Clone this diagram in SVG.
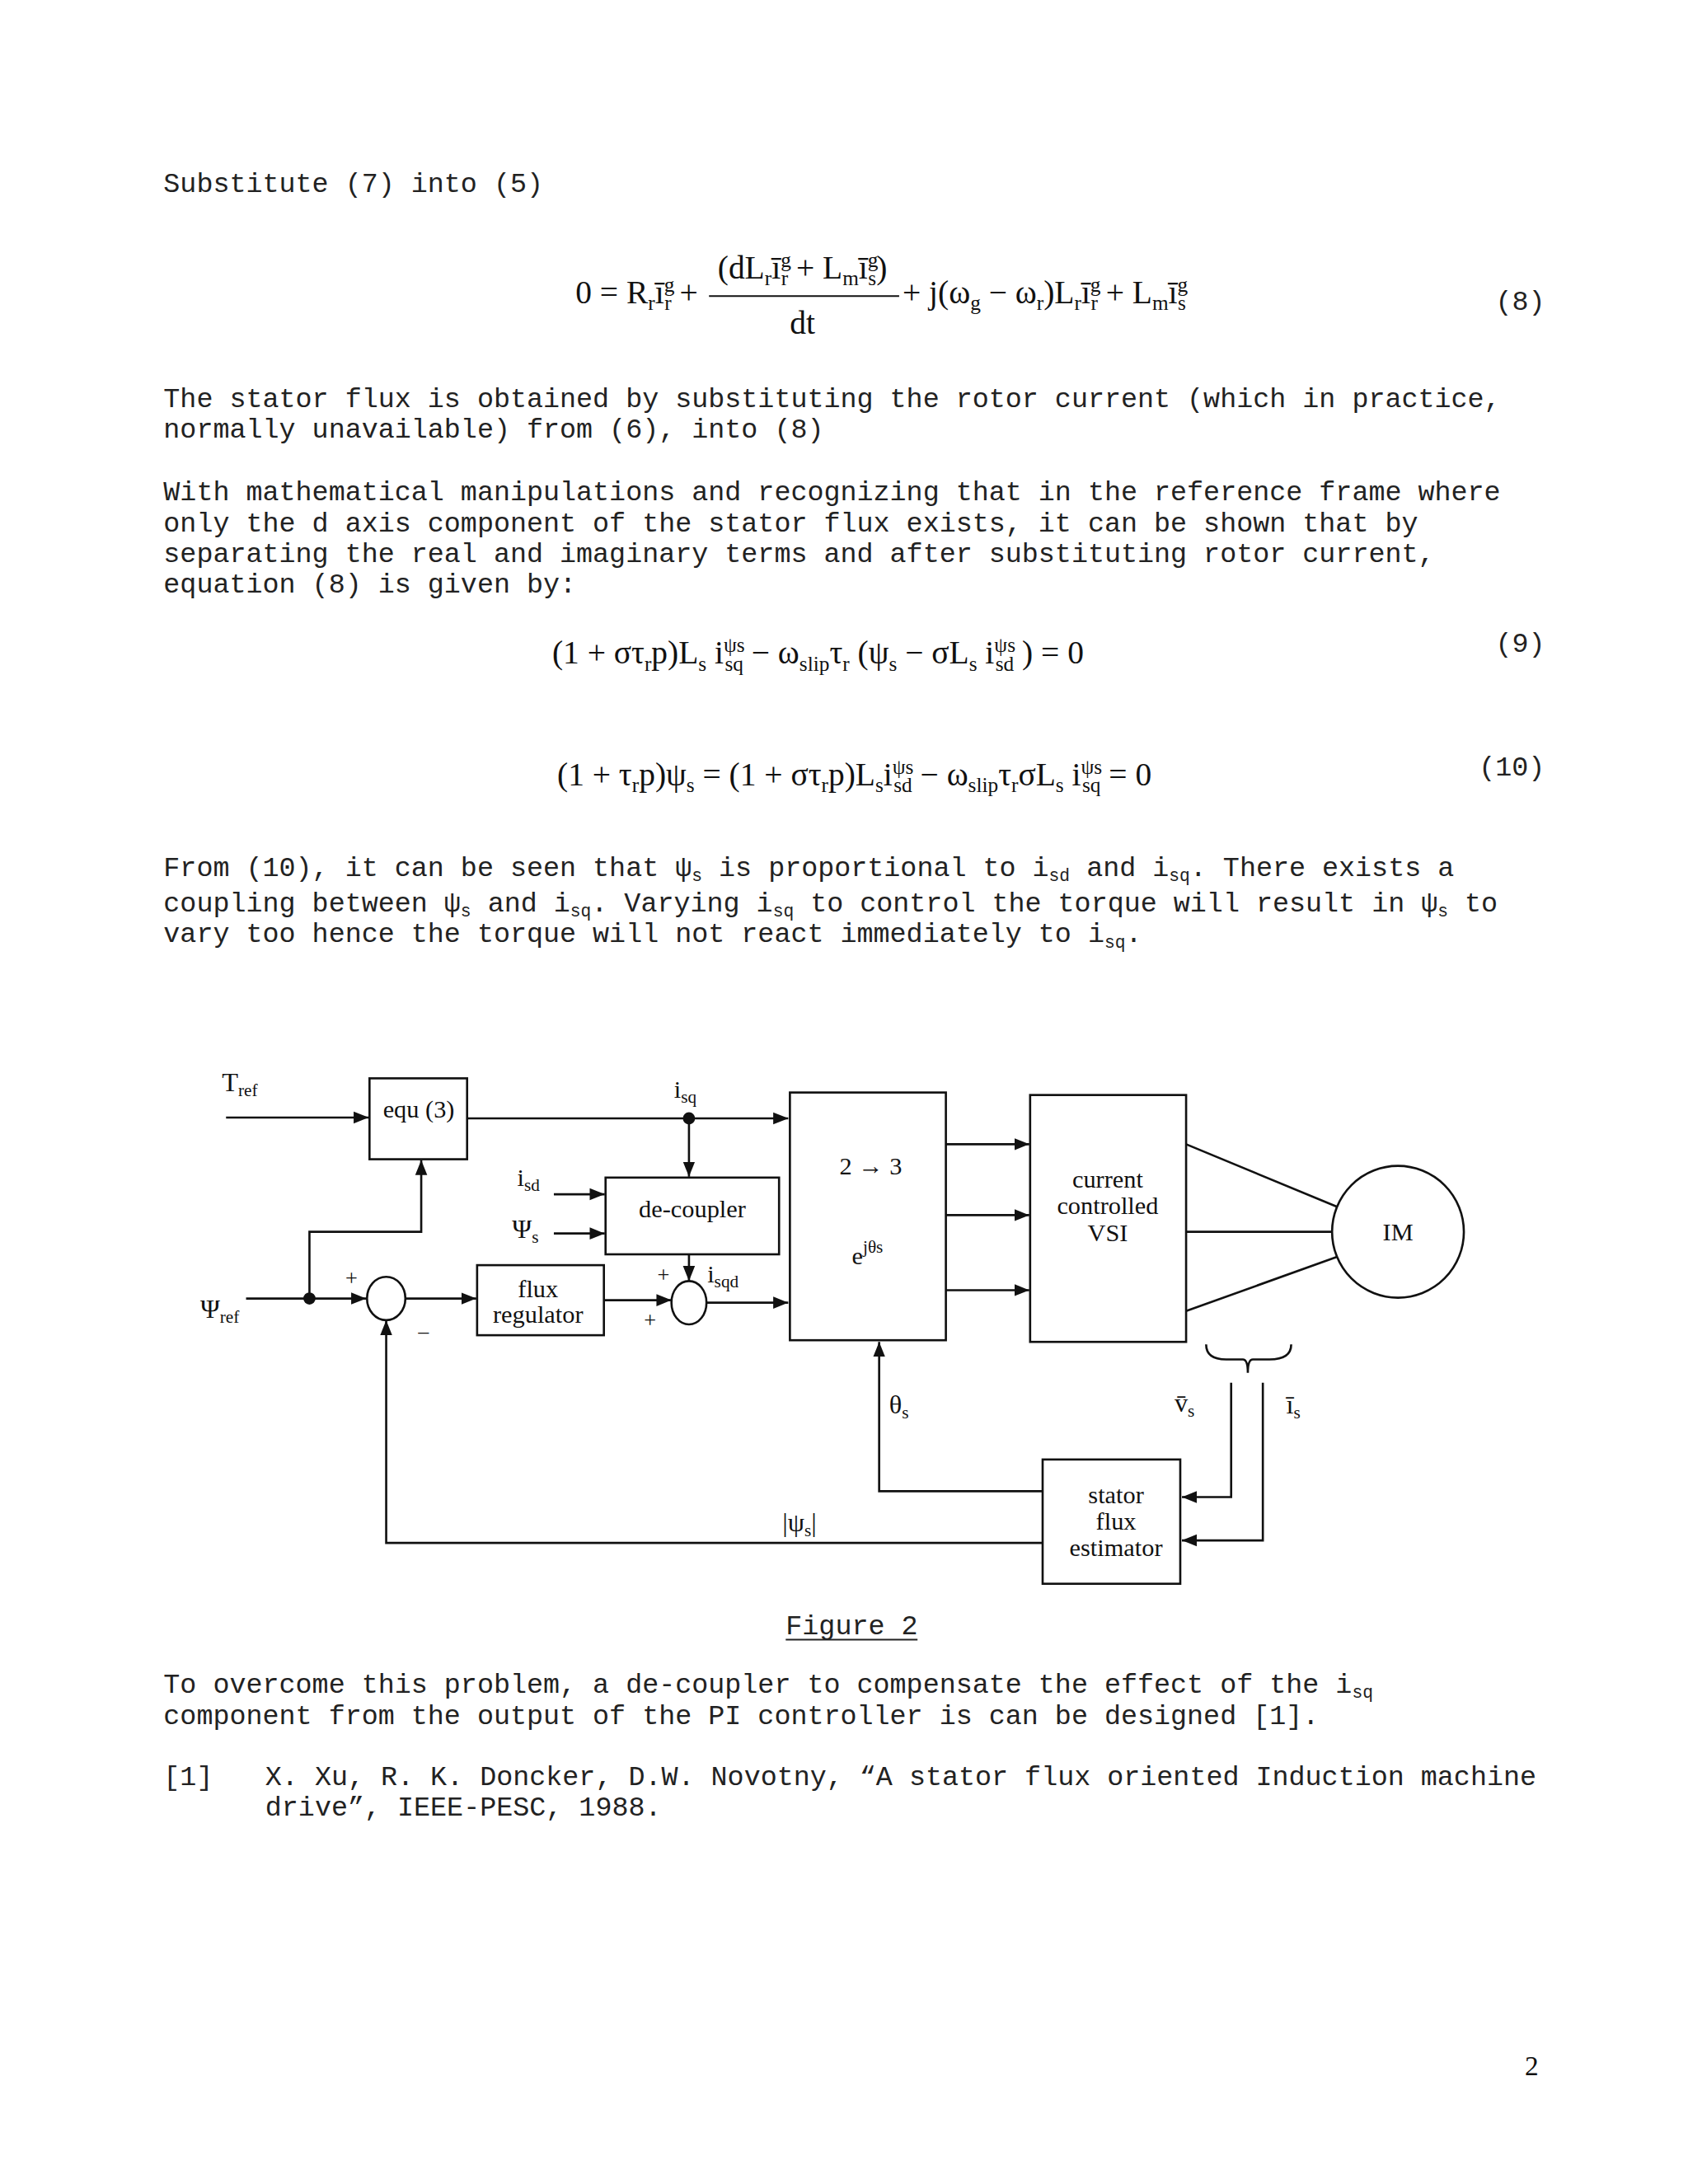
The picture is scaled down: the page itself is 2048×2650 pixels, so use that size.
<svg xmlns="http://www.w3.org/2000/svg" width="2048" height="2650" viewBox="0 0 2048 2650">
<style>
.t{font-family:"Liberation Mono",monospace;font-size:33px;fill:#222}
.e{font-family:"Liberation Serif",serif;font-size:39px;fill:#111}
.e .s{font-size:25px}
.d{font-family:"Liberation Serif",serif;font-size:30px;fill:#111}
.m{text-anchor:middle}
.s{font-size:21px}
.ln{stroke:#111;stroke-width:2.6;fill:none}
</style>
<defs><marker id="b" viewBox="0 0 10 10" refX="10" refY="5" markerWidth="18" markerHeight="18" markerUnits="userSpaceOnUse" orient="auto"><path d="M0,1L10,5L0,9z" fill="#111"/></marker></defs>
<rect width="2048" height="2650" fill="#fff"/>
<g transform="translate(0,8) scale(1.012)">
<text class="t" x="196" y="222">Substitute (7) into (5)</text>
<text class="e" x="690" y="356">0 = R<tspan class="s" dy="8">r</tspan><tspan dy="-8">ī</tspan><tspan class="s" dy="-14">g</tspan><tspan class="s" dx="-12" dy="22">r</tspan><tspan dy="-8"> +</tspan></text>
<text class="e m" x="962" y="326">(dL<tspan class="s" dy="8">r</tspan><tspan dy="-8">ī</tspan><tspan class="s" dy="-14">g</tspan><tspan class="s" dx="-12" dy="22">r</tspan><tspan dy="-8"> + L</tspan><tspan class="s" dy="8">m</tspan><tspan dy="-8">ī</tspan><tspan class="s" dy="-14">g</tspan><tspan class="s" dx="-12" dy="22">s</tspan><tspan dy="-8">)</tspan></text>
<line x1="850" y1="347" x2="1078" y2="347" stroke="#111" stroke-width="2"/>
<text class="e m" x="962" y="392">dt</text>
<text class="e" x="1082" y="356">+ j(ω<tspan class="s" dy="8">g</tspan><tspan dy="-8"> − ω</tspan><tspan class="s" dy="8">r</tspan><tspan dy="-8">)L</tspan><tspan class="s" dy="8">r</tspan><tspan dy="-8">ī</tspan><tspan class="s" dy="-14">g</tspan><tspan class="s" dx="-12" dy="22">r</tspan><tspan dy="-8"> + L</tspan><tspan class="s" dy="8">m</tspan><tspan dy="-8">ī</tspan><tspan class="s" dy="-14">g</tspan><tspan class="s" dx="-12" dy="22">s</tspan></text>
<text class="t" x="1793" y="364">(8)</text>
<text class="t" x="196" y="480">The stator flux is obtained by substituting the rotor current (which in practice,</text>
<text class="t" x="196" y="517">normally unavailable) from (6), into (8)</text>
<text class="t" x="196" y="592">With mathematical manipulations and recognizing that in the reference frame where</text>
<text class="t" x="196" y="629">only the d axis component of the stator flux exists, it can be shown that by</text>
<text class="t" x="196" y="666">separating the real and imaginary terms and after substituting rotor current,</text>
<text class="t" x="196" y="703">equation (8) is given by:</text>
<text class="e" x="662" y="788">(1 + στ<tspan class="s" dy="8">r</tspan><tspan dy="-8">p)L</tspan><tspan class="s" dy="8">s</tspan><tspan dy="-8"> i</tspan><tspan class="s" dy="-14">ψs</tspan><tspan class="s" dx="-24" dy="22">sq</tspan><tspan dy="-8"> − ω</tspan><tspan class="s" dy="8">slip</tspan><tspan dy="-8">τ</tspan><tspan class="s" dy="8">r</tspan><tspan dy="-8"> (ψ</tspan><tspan class="s" dy="8">s</tspan><tspan dy="-8"> − σL</tspan><tspan class="s" dy="8">s</tspan><tspan dy="-8"> i</tspan><tspan class="s" dy="-14">ψs</tspan><tspan class="s" dx="-24" dy="22">sd</tspan><tspan dy="-8"> ) = 0</tspan></text>
<text class="t" x="1793" y="774">(9)</text>
<text class="e" x="668" y="934">(1 + τ<tspan class="s" dy="8">r</tspan><tspan dy="-8">p)ψ</tspan><tspan class="s" dy="8">s</tspan><tspan dy="-8"> = (1 + στ</tspan><tspan class="s" dy="8">r</tspan><tspan dy="-8">p)L</tspan><tspan class="s" dy="8">s</tspan><tspan dy="-8">i</tspan><tspan class="s" dy="-14">ψs</tspan><tspan class="s" dx="-24" dy="22">sd</tspan><tspan dy="-8"> − ω</tspan><tspan class="s" dy="8">slip</tspan><tspan dy="-8">τ</tspan><tspan class="s" dy="8">r</tspan><tspan dy="-8">σL</tspan><tspan class="s" dy="8">s</tspan><tspan dy="-8"> i</tspan><tspan class="s" dy="-14">ψs</tspan><tspan class="s" dx="-24" dy="22">sq</tspan><tspan dy="-8"> = 0</tspan></text>
<text class="t" x="1773" y="922">(10)</text>
<text class="t" x="196" y="1042">From (10), it can be seen that ψ<tspan class="s" dy="6">s</tspan><tspan dy="-6"> is proportional to i</tspan><tspan class="s" dy="6">sd</tspan><tspan dy="-6"> and i</tspan><tspan class="s" dy="6">sq</tspan><tspan dy="-6">. There exists a</tspan></text>
<text class="t" x="196" y="1085">coupling between ψ<tspan class="s" dy="6">s</tspan><tspan dy="-6"> and i</tspan><tspan class="s" dy="6">sq</tspan><tspan dy="-6">. Varying i</tspan><tspan class="s" dy="6">sq</tspan><tspan dy="-6"> to control the torque will result in ψ</tspan><tspan class="s" dy="6">s</tspan><tspan dy="-6"> to</tspan></text>
<text class="t" x="196" y="1122">vary too hence the torque will not react immediately to i<tspan class="s" dy="6">sq</tspan><tspan dy="-6">.</tspan></text>
<g transform="translate(0,-10)">
<g id="connectors" class="ln">
<path d="M271,1342H442" marker-end="url(#b)"/>
<path d="M560,1343H945" marker-end="url(#b)"/>
<path d="M826,1343V1413" marker-end="url(#b)"/>
<path d="M664,1434H725" marker-end="url(#b)"/>
<path d="M664,1481H725" marker-end="url(#b)"/>
<path d="M826,1506V1538" marker-end="url(#b)"/>
<path d="M847,1564H945" marker-end="url(#b)"/>
<path d="M724,1561H805" marker-end="url(#b)"/>
<path d="M486,1559H571" marker-end="url(#b)"/>
<path d="M295,1559H439" marker-end="url(#b)"/>
<path d="M371,1559V1479H505V1393" marker-end="url(#b)"/>
<path d="M1134,1374H1234" marker-end="url(#b)"/>
<path d="M1134,1459H1234" marker-end="url(#b)"/>
<path d="M1134,1549H1234" marker-end="url(#b)"/>
<path d="M1422,1374L1603,1449M1422,1479H1597M1422,1574L1603,1509"/>
<path d="M1250,1852H463V1585" marker-end="url(#b)"/>
<path d="M1250,1790H1054V1611" marker-end="url(#b)"/>
<path d="M1476,1660V1797H1417" marker-end="url(#b)"/>
<path d="M1514,1660V1849H1417" marker-end="url(#b)"/>
<path d="M1446,1614Q1446,1632 1470,1632H1490Q1496,1632 1496,1648Q1496,1632 1502,1632H1522Q1548,1632 1548,1614"/>
<circle cx="371" cy="1559" r="6" fill="#111"/>
<circle cx="826" cy="1343" r="6" fill="#111"/>
</g>
<g id="equ3"><rect x="443" y="1295" width="117" height="97" class="ln"/><text class="d m" x="502" y="1342">equ (3)</text></g>
<g id="conv23"><rect x="947" y="1312" width="187" height="297" class="ln"/><text class="d m" x="1044" y="1410" font-size="40">2 → 3</text><text class="d m" x="1040" y="1518" font-size="34">e<tspan class="s" dy="-14" font-size="23">jθs</tspan></text></g>
<g id="vsi"><rect x="1235" y="1315" width="187" height="296" class="ln"/><text class="d m" x="1328" y="1426">current</text><text class="d m" x="1328" y="1458">controlled</text><text class="d m" x="1328" y="1490">VSI</text></g>
<g id="im"><circle cx="1676" cy="1479" r="79" class="ln"/><text class="d m" x="1676" y="1489">IM</text></g>
<g id="decoupler"><rect x="726" y="1414" width="208" height="92" class="ln"/><text class="d m" x="830" y="1462">de-coupler</text></g>
<g id="fluxreg"><rect x="572" y="1519" width="152" height="84" class="ln"/><text class="d m" x="645" y="1557">flux</text><text class="d m" x="645" y="1588">regulator</text></g>
<g id="sum1"><ellipse cx="463" cy="1559" rx="23" ry="26" class="ln"/></g>
<g id="sum2"><ellipse cx="826" cy="1564" rx="21" ry="26" class="ln"/></g>
<g id="estimator"><rect x="1250" y="1752" width="165" height="149" class="ln"/><text class="d m" x="1338" y="1804">stator</text><text class="d m" x="1338" y="1836">flux</text><text class="d m" x="1338" y="1868">estimator</text></g>
<g id="labels" class="d">
<text x="266" y="1310" font-size="32">T<tspan class="s" dy="6" font-size="24">ref</tspan></text>
<text x="808" y="1318">i<tspan class="s" dy="6" font-size="24">sq</tspan></text>
<text x="620" y="1424">i<tspan class="s" dy="6" font-size="24">sd</tspan></text>
<text x="614" y="1486" font-size="32">Ψ<tspan class="s" dy="6" font-size="24">s</tspan></text>
<text x="848" y="1540">i<tspan class="s" dy="6" font-size="24">sqd</tspan></text>
<text x="788" y="1540" font-size="26">+</text>
<text x="772" y="1594" font-size="26">+</text>
<text x="414" y="1544" font-size="26">+</text>
<text x="500" y="1610" font-size="28">−</text>
<text x="240" y="1582" font-size="32">Ψ<tspan class="s" dy="6" font-size="24">ref</tspan></text>
<text x="938" y="1838" font-size="32">|ψ<tspan class="s" dy="6" font-size="24">s</tspan><tspan dy="-6">|</tspan></text>
<text x="1066" y="1697" font-size="32">θ<tspan class="s" dy="6" font-size="24">s</tspan></text>
<text x="1408" y="1695" font-size="32">v̄<tspan class="s" dy="6" font-size="24">s</tspan></text>
<text x="1542" y="1697" font-size="32">ī<tspan class="s" dy="6" font-size="24">s</tspan></text>
</g>
</g>
<text class="t" x="942" y="1952">Figure 2</text>
<line x1="942" y1="1958" x2="1100" y2="1958" stroke="#222" stroke-width="2"/>
<text class="t" x="196" y="2022">To overcome this problem, a de-coupler to compensate the effect of the i<tspan class="s" dy="6">sq</tspan></text>
<text class="t" x="196" y="2059">component from the output of the PI controller is can be designed [1].</text>
<text class="t" x="196" y="2132">[1]</text>
<text class="t" x="318" y="2132">X. Xu, R. K. Doncker, D.W. Novotny, “A stator flux oriented Induction machine</text>
<text class="t" x="318" y="2169">drive”, IEEE-PESC, 1988.</text>
<text x="1828" y="2480" font-family="Liberation Serif,serif" font-size="33" fill="#111">2</text>
</g>
</svg>
